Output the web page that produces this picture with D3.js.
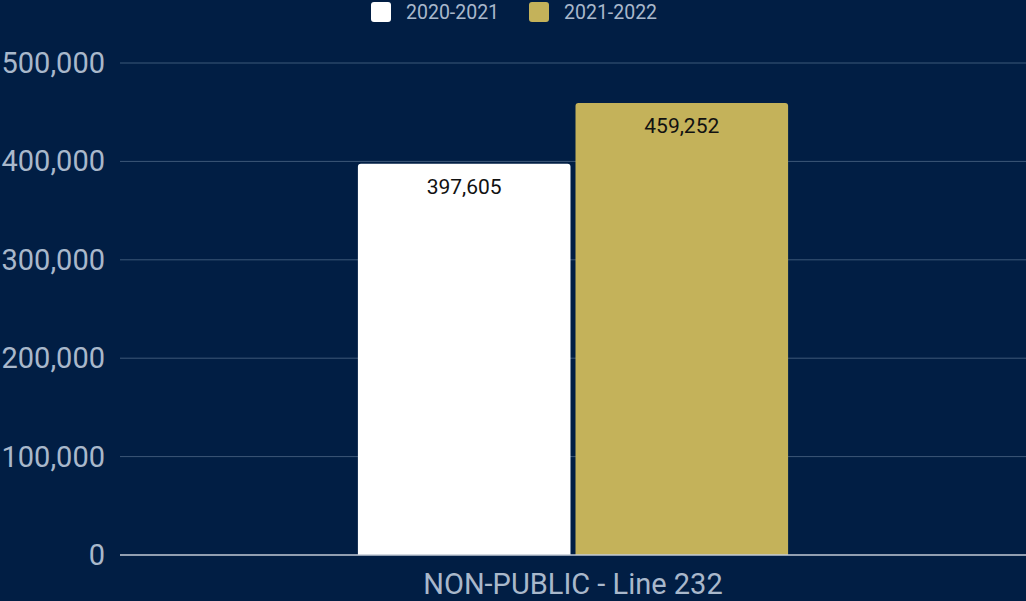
<!DOCTYPE html>
<html><head><meta charset="utf-8">
<script src="https://cdn.jsdelivr.net/npm/d3@7"></script>
<style>html,body{margin:0;padding:0;background:#011e44;}svg{display:block;font-family:Roboto,sans-serif;}</style>
</head><body>
<svg id="c" width="1026" height="601"></svg>
<script>
const categories = ["NON-PUBLIC - Line 232"];
const seriesNames = ["2020-2021", "2021-2022"];
const series2021 = [397605];
const series2022 = [459252];
const yTicks = [0, 100000, 200000, 300000, 400000, 500000];
const colors = ["#ffffff", "#c4b25a"];

const W = 1026, H = 601;
const m = {left: 120, right: 0, top: 63, bottom: 46};
const svg = d3.select("#c");
svg.append("rect").attr("width", W).attr("height", H).attr("fill", "#011e44");

const y = d3.scaleLinear().domain([0, 500000]).range([H - m.bottom, m.top]);
const x0 = d3.scaleBand().domain(categories).range([m.left, W - m.right]).paddingInner(0).paddingOuter(0.553);
const x1 = d3.scaleBand().domain(seriesNames).range([0, x0.bandwidth()]).paddingInner(0.023);

// gridlines
svg.append("g").selectAll("line").data(yTicks.filter(d => d > 0)).join("line")
  .attr("x1", m.left).attr("x2", W).attr("y1", d => y(d)).attr("y2", d => y(d))
  .attr("stroke", "#3d5878").attr("stroke-width", 1);

// y axis labels
const fmt = d3.format(",");
svg.append("g").selectAll("text").data(yTicks).join("text")
  .attr("x", 105).attr("y", d => y(d) + 10).attr("text-anchor", "end")
  .attr("fill", "#a9b8cb").attr("font-size", 29).text(d => fmt(d));

// bars
const data = categories.map((c, i) => ({cat: c, vals: [
  {s: seriesNames[0], v: series2021[i], col: colors[0]},
  {s: seriesNames[1], v: series2022[i], col: colors[1]}]}));
const r = 3;
function topRounded(x, yT, w, yB) {
  return `M${x},${yB}V${yT + r}Q${x},${yT} ${x + r},${yT}H${x + w - r}Q${x + w},${yT} ${x + w},${yT + r}V${yB}Z`;
}
const g = svg.append("g").selectAll("g").data(data).join("g")
  .attr("transform", d => `translate(${x0(d.cat)},0)`);
g.selectAll("path").data(d => d.vals).join("path")
  .attr("d", d => topRounded(x1(d.s), y(d.v), x1.bandwidth(), y(0)))
  .attr("fill", d => d.col);
g.selectAll("text").data(d => d.vals).join("text")
  .attr("x", d => x1(d.s) + x1.bandwidth() / 2).attr("y", d => y(d.v) + 30)
  .attr("text-anchor", "middle").attr("font-size", 21).attr("fill", "#111")
  .text(d => fmt(d.v));

// zero line
svg.append("line").attr("x1", m.left).attr("x2", W).attr("y1", y(0)).attr("y2", y(0))
  .attr("stroke", "#c3cbd6").attr("stroke-width", 1.5);

// x axis label
svg.append("g").selectAll("text").data(categories).join("text")
  .attr("x", d => x0(d) + x0.bandwidth() / 2).attr("y", 594).attr("text-anchor", "middle")
  .attr("fill", "#a9b8cb").attr("font-size", 29).text(d => d);

// legend
const legX = [371, 529];
const leg = svg.append("g").selectAll("g").data(seriesNames).join("g")
  .attr("transform", (d, i) => `translate(${legX[i]},2)`);
leg.append("rect").attr("width", 20).attr("height", 20).attr("rx", 3).attr("fill", (d, i) => colors[i]);
leg.append("text").attr("x", 35).attr("y", 17).attr("font-size", 19.5).attr("fill", "#a9b8cb").text(d => d);
</script>
</body></html>
